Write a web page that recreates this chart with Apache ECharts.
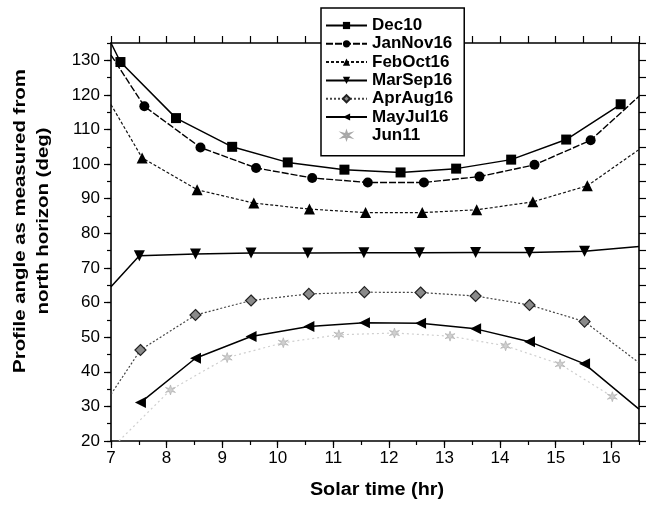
<!DOCTYPE html>
<html>
<head>
<meta charset="utf-8">
<script src="https://cdn.jsdelivr.net/npm/echarts@6/dist/echarts.min.js"></script>
<style>
  html, body { margin: 0; padding: 0; background: #fff; }
  #chart { width: 657px; height: 506px; }
</style>
</head>
<body>
<div id="chart"></div>
<script>
// Profile angle (deg, measured from north horizon) versus solar time (hr)
const seriesNames = ['Dec10', 'JanNov16', 'FebOct16', 'MarSep16', 'AprAug16', 'MayJul16', 'Jun11'];

const dec10 = [[7.0, 135], [7.17, 129.5], [8.17, 113.3], [9.18, 105.0], [10.18, 100.5], [11.2, 98.4],
  [12.21, 97.6], [13.21, 98.7], [14.2, 101.3], [15.19, 107.1], [16.17, 117.3]];
const janNov16 = [[7.0, 131.5], [7.6, 116.7], [8.61, 104.8], [9.61, 98.9], [10.62, 96.0], [11.62, 94.7],
  [12.63, 94.7], [13.63, 96.4], [14.62, 99.8], [15.63, 106.9], [16.5, 119.6]];
const febOct16 = [[7.0, 117.2], [7.56, 101.8], [8.55, 92.6], [9.57, 88.75], [10.57, 87.0], [11.58, 86.0],
  [12.6, 86.0], [13.58, 86.8], [14.59, 89.1], [15.57, 93.75], [16.5, 104.2]];
const marSep16 = [[7.0, 64.6], [7.51, 73.5], [8.52, 74.0], [9.52, 74.3], [10.54, 74.3], [11.55, 74.4],
  [12.55, 74.4], [13.56, 74.5], [14.53, 74.5], [15.52, 74.8], [16.5, 76.2]];
const aprAug16 = [[7.0, 33.5], [7.53, 46.3], [8.52, 56.4], [9.52, 60.6], [10.56, 62.5], [11.56, 63.0],
  [12.57, 62.9], [13.56, 61.9], [14.53, 59.3], [15.52, 54.5], [16.5, 42.6]];
const mayJul16 = [[7.53, 31.1], [8.52, 43.9], [9.52, 50.2], [10.56, 53.1], [11.56, 54.2], [12.57, 54.0],
  [13.56, 52.4], [14.53, 48.7], [15.52, 42.3], [16.5, 29.2]];
const jun11 = [[7.08, 19], [8.07, 34.75], [9.09, 44.1], [10.1, 48.4], [11.1, 50.7], [12.1, 51.2],
  [13.1, 50.3], [14.1, 47.5], [15.08, 42.2], [16.02, 32.8]];

const xMin = 7, xMax = 16.5, yMin = 20, yMax = 135;
const xTickLabels = [7, 8, 9, 10, 11, 12, 13, 14, 15, 16];
const yTickLabels = [20, 30, 40, 50, 60, 70, 80, 90, 100, 110, 120, 130];

const FONT = '"Liberation Sans", Arial, sans-serif';
const JUN_SYMBOL = 'path://M0,-5L1,-1.5L4.3,-2.5L1.6,0L4.3,2.5L1,1.5L0,5L-1,1.5L-4.3,2.5L-1.6,0L-4.3,-2.5L-1,-1.5Z';

// Points lying on the frame edges carry no marker; the line just runs to the edge.
function points(arr) {
  return arr.map(([x, y]) => {
    const onEdge = x <= xMin || x >= xMax || y < yMin;
    return onEdge ? { value: [x, y], symbol: 'none' } : { value: [x, y] };
  });
}

function lineSeries(name, data, opts) {
  return Object.assign({
    name: name,
    type: 'line',
    data: points(data),
    xAxisIndex: 0,
    yAxisIndex: 0,
    clip: true,
    z: 3,
    emphasis: { disabled: true },
    animation: false
  }, opts);
}

const chart = echarts.init(document.getElementById('chart'), null, { renderer: 'canvas' });

const grid = { left: 111, right: 18, top: 43, bottom: 65 };

const baseAxis = {
  type: 'value',
  splitLine: { show: false },
  axisLine: { show: true, onZero: false, lineStyle: { color: '#000', width: 1.6 } },
  axisTick: { show: true, inside: false, length: 7, lineStyle: { color: '#000', width: 1.2 } },
  axisLabel: { show: false }
};

const legendData = seriesNames.map(n => (n === 'Jun11'
  ? { name: n, lineStyle: { opacity: 0 } }
  : { name: n }));

chart.setOption({
  animation: false,
  backgroundColor: '#fff',
  grid: grid,
  textStyle: { fontFamily: FONT },
  legend: {
    orient: 'vertical',
    left: 321,
    top: 8,
    padding: [9, 11, 12, 4],
    itemGap: 1.3,
    itemWidth: 41,
    itemHeight: 9,
    backgroundColor: '#fff',
    borderColor: '#000',
    borderWidth: 1.5,
    selectedMode: false,
    data: legendData,
    textStyle: { fontFamily: FONT, fontSize: 17, fontWeight: 'bold', color: '#000', lineHeight: 17 }
  },
  xAxis: [
    Object.assign({}, baseAxis, {
      position: 'bottom', min: xMin, max: xMax, interval: 1,
      axisLabel: {
        show: true, color: '#000', fontSize: 17, fontFamily: FONT, margin: 9,
        showMaxLabel: false,
        formatter: v => (xTickLabels.indexOf(v) >= 0 ? String(v) : '')
      }
    }),
    Object.assign({}, baseAxis, {
      position: 'bottom', min: xMin, max: xMax, interval: 0.5,
      axisLine: { show: false },
      axisTick: { show: true, length: 4, lineStyle: { color: '#000', width: 1.2 } }
    }),
    Object.assign({}, baseAxis, {
      position: 'top', min: xMin, max: xMax, interval: 0.5
    })
  ],
  yAxis: [
    Object.assign({}, baseAxis, {
      position: 'left', min: yMin, max: yMax, interval: 10,
      axisLabel: {
        show: true, color: '#000', fontSize: 17, fontFamily: FONT, margin: 11,
        showMaxLabel: false,
        formatter: v => (yTickLabels.indexOf(v) >= 0 ? String(v) : '')
      }
    }),
    Object.assign({}, baseAxis, {
      position: 'left', min: yMin, max: yMax, interval: 5,
      axisLine: { show: false },
      axisTick: { show: true, length: 4, lineStyle: { color: '#000', width: 1.2 } }
    }),
    Object.assign({}, baseAxis, {
      position: 'right', min: yMin, max: yMax, interval: 5
    })
  ],
  graphic: [{
    // y axis title, two lines, reading bottom to top
    type: 'text',
    x: 32,
    y: 221,
    rotation: Math.PI / 2,
    scaleX: 1.2,
    z: 10,
    style: {
      text: 'Profile angle as measured from\nnorth horizon (deg)',
      fontFamily: FONT,
      fontSize: 17,
      fontWeight: 'bold',
      fill: '#000',
      align: 'center',
      verticalAlign: 'middle',
      lineHeight: 23
    }
  }, {
    // x axis title
    type: 'text',
    x: 377,
    y: 490,
    scaleX: 1.1,
    z: 10,
    style: {
      text: 'Solar time (hr)',
      fontFamily: FONT,
      fontSize: 18,
      fontWeight: 'bold',
      fill: '#000',
      align: 'center',
      verticalAlign: 'middle'
    }
  }],
  series: [
    lineSeries('Dec10', dec10, {
      symbol: 'rect', symbolSize: 10,
      itemStyle: { color: '#000' },
      lineStyle: { color: '#000', width: 1.5, type: 'solid' }
    }),
    lineSeries('JanNov16', janNov16, {
      symbol: 'circle', symbolSize: 10,
      itemStyle: { color: '#000' },
      lineStyle: { color: '#000', width: 1.4, type: [7, 2] }
    }),
    lineSeries('FebOct16', febOct16, {
      symbol: 'triangle', symbolSize: 11,
      itemStyle: { color: '#000' },
      lineStyle: { color: '#111', width: 1.2, type: [3, 2] }
    }),
    lineSeries('MarSep16', marSep16, {
      symbol: 'triangle', symbolSize: 11, symbolRotate: 180,
      itemStyle: { color: '#000' },
      lineStyle: { color: '#000', width: 1.5, type: 'solid' }
    }),
    lineSeries('AprAug16', aprAug16, {
      symbol: 'diamond', symbolSize: 11,
      itemStyle: { color: '#8a8a8a', borderColor: '#222', borderWidth: 1.2 },
      lineStyle: { color: '#444', width: 1.2, type: [2, 2] }
    }),
    lineSeries('MayJul16', mayJul16, {
      symbol: 'triangle', symbolSize: 11, symbolRotate: 90,
      itemStyle: { color: '#000' },
      lineStyle: { color: '#000', width: 1.5, type: 'solid' }
    }),
    lineSeries('Jun11', jun11, {
      symbol: JUN_SYMBOL, symbolSize: 10,
      itemStyle: { color: '#cfcfcf', borderColor: '#a8a8a8', borderWidth: 0.6 },
      lineStyle: { color: '#cfcfcf', width: 1.2, type: [2, 3] }
    })
  ]
});
</script>
</body>
</html>
